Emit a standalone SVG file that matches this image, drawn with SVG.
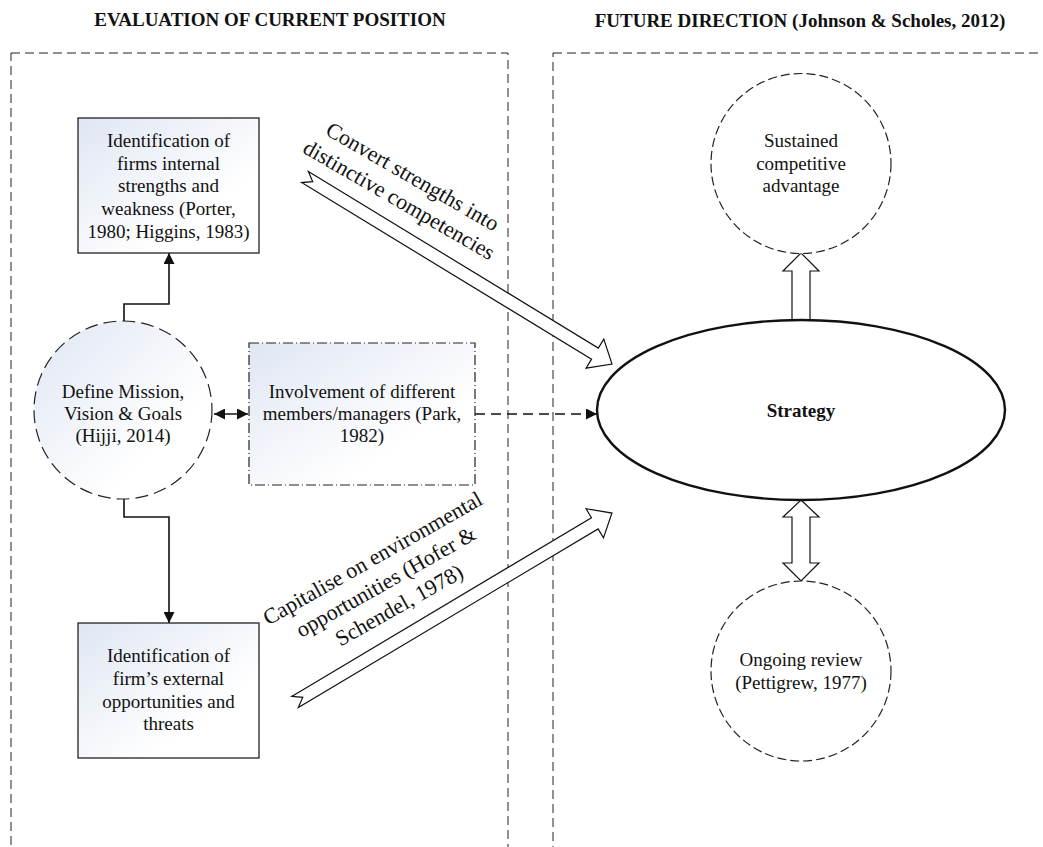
<svg xmlns="http://www.w3.org/2000/svg" width="1043" height="847" viewBox="0 0 1043 847">
  <style>
    text { font-family: "Liberation Serif", "Times New Roman", serif; font-size: 19px; fill: #111; text-anchor: middle; }
    .title { font-weight: bold; }
    .rot { font-size: 22px; }
    .panel { fill: none; stroke: #222; stroke-width: 1; stroke-dasharray: 9 5; }
    .box { fill: url(#shade); stroke: #222; stroke-width: 1.3; }
    .dashdot { fill: url(#shade); stroke: #222; stroke-width: 1.2; stroke-dasharray: 10 3 1 3; }
    .longdash { fill: url(#shade); stroke: #222; stroke-width: 1.2; stroke-dasharray: 13 6; }
    .dashcircle { fill: #fff; stroke: #222; stroke-width: 1.2; stroke-dasharray: 9 4; }
    .block { fill: #fff; stroke: #111; stroke-width: 1.2; stroke-linejoin: miter; }
    .link { fill: none; stroke: #111; stroke-width: 1.6; }
    .dlink { fill: none; stroke: #111; stroke-width: 1.6; stroke-dasharray: 10 6; }
  </style>
  <defs>
    <linearGradient id="shade" x1="0" y1="0" x2="1" y2="1">
      <stop offset="0" stop-color="#dfe6f3"/>
      <stop offset="0.7" stop-color="#ffffff"/>
    </linearGradient>
    <marker id="head" viewBox="0 0 10 10" refX="10" refY="5" markerWidth="12" markerHeight="11" markerUnits="userSpaceOnUse" orient="auto-start-reverse">
      <path d="M0,0 L10,5 L0,10 z" fill="#111"/>
    </marker>
  </defs>

  <!-- section headings -->
  <text class="title" x="270" y="26">EVALUATION OF CURRENT POSITION</text>
  <text class="title" x="800" y="27">FUTURE DIRECTION (Johnson &amp; Scholes, 2012)</text>

  <!-- section frames -->
  <rect class="panel" x="11" y="53" width="497" height="830"/>
  <rect class="panel" x="553" y="53" width="530" height="830"/>

  <!-- connectors -->
  <g id="connectors">
    <path class="link" d="M124,321 V304 H169 V253" marker-end="url(#head)"/>
    <path class="link" d="M124,498 V517 H169 V623" marker-end="url(#head)"/>
    <path class="link" d="M214,414 H248" marker-start="url(#head)" marker-end="url(#head)"/>
    <path class="dlink" d="M475,414 H597" marker-end="url(#head)"/>
    <!-- block arrows -->
    <polygon class="block" transform="translate(305,177) rotate(31.35)" points="0,-6.5 339.5,-6.5 339.5,-17 359.5,0 339.5,17 339.5,6.5 0,6.5 9,0"/>
    <polygon class="block" transform="translate(295,702) rotate(-30.8)" points="0,-6.5 349,-6.5 349,-17 369,0 349,17 349,6.5 0,6.5 9,0"/>
    <polygon class="block" points="792,320 792,271 783,271 801,253 819,271 810,271 810,320"/>
    <polygon class="block" points="801,500 819,517 810,517 810,563 819,563 801,581 783,563 792,563 792,517 783,517"/>
    <!-- arrow labels -->
    <g transform="translate(405.75,188.5) rotate(30)">
      <text class="rot" x="0" y="-6.5">Convert strengths into</text>
      <text class="rot" x="0" y="20.5">distinctive competencies</text>
    </g>
    <g transform="translate(386,582) rotate(-29.5)">
      <text class="rot" x="0" y="-20">Capitalise on environmental</text>
      <text class="rot" x="0" y="7">opportunities (Hofer &amp;</text>
      <text class="rot" x="0" y="34">Schendel, 1978)</text>
    </g>
  </g>

  <g id="internal">
    <rect class="box" x="78" y="118" width="181" height="135"/>
    <text x="168.5" y="147">Identification of</text>
    <text x="168.5" y="169.7">firms internal</text>
    <text x="168.5" y="192.4">strengths and</text>
    <text x="168.5" y="215">weakness (Porter,</text>
    <text x="168.5" y="237.7">1980; Higgins, 1983)</text>
  </g>

  <g id="mission">
    <circle class="longdash" cx="123" cy="410" r="89"/>
    <text x="123" y="398">Define Mission,</text>
    <text x="123" y="420">Vision &amp; Goals</text>
    <text x="123" y="442">(Hijji, 2014)</text>
  </g>

  <g id="involvement">
    <rect class="dashdot" x="249" y="343" width="226" height="142"/>
    <text x="362" y="398">Involvement of different</text>
    <text x="362" y="420">members/managers (Park,</text>
    <text x="362" y="442">1982)</text>
  </g>

  <g id="external">
    <rect class="box" x="78" y="623" width="181" height="135"/>
    <text x="168.5" y="662">Identification of</text>
    <text x="168.5" y="685">firm’s external</text>
    <text x="168.5" y="708">opportunities and</text>
    <text x="168.5" y="730">threats</text>
  </g>

  <g id="strategy">
    <ellipse cx="801" cy="410" rx="204" ry="90" fill="#fff" stroke="#111" stroke-width="2.4"/>
    <text class="title" x="801" y="417">Strategy</text>
  </g>

  <g id="advantage">
    <circle class="dashcircle" cx="801" cy="163.5" r="90"/>
    <text x="801" y="147">Sustained</text>
    <text x="801" y="170">competitive</text>
    <text x="801" y="192">advantage</text>
  </g>

  <g id="review">
    <circle class="dashcircle" cx="801" cy="671" r="90"/>
    <text x="801" y="666">Ongoing review</text>
    <text x="801" y="689">(Pettigrew, 1977)</text>
  </g>
</svg>
